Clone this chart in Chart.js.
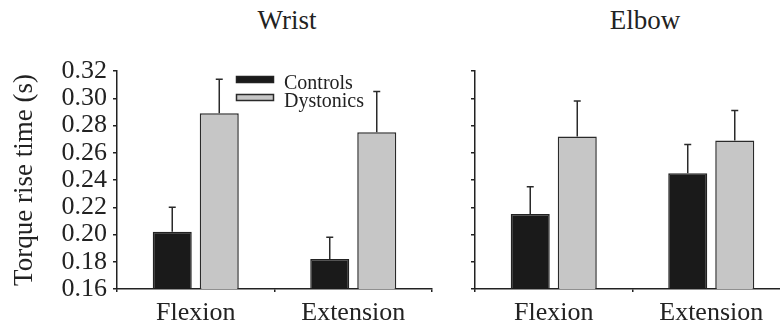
<!DOCTYPE html>
<html>
<head>
<meta charset="utf-8">
<script src="https://cdn.jsdelivr.net/npm/chart.js@4"></script>
<style>
html,body{margin:0;padding:0;background:#fff;overflow:hidden;width:780px;height:330px;}
#wrap{position:relative;width:780px;height:330px;overflow:hidden;}
canvas{position:absolute;top:0;}
.ttl{position:absolute;width:200px;text-align:center;font-family:"Liberation Serif","DejaVu Serif",serif;font-size:27px;line-height:27px;color:#222;top:7px;}
</style>
</head>
<body>
<div id="wrap">
<div class="ttl" id="t1" style="left:187px">Wrist</div>
<div class="ttl" id="t2" style="left:545px">Elbow</div>
<canvas id="c1" width="440" height="330" style="left:0"></canvas>
<canvas id="c2" width="360" height="330" style="left:440px"></canvas>
</div>
<script>
const categories = ["Flexion", "Extension"];
const seriesLabels = ["Controls", "Dystonics"];
const wristControls = [0.202, 0.182];
const wristControlsErr = [0.018, 0.016];
const wristDystonics = [0.289, 0.275];
const wristDystonicsErr = [0.025, 0.030];
const elbowControls = [0.215, 0.245];
const elbowControlsErr = [0.020, 0.021];
const elbowDystonics = [0.272, 0.269];
const elbowDystonicsErr = [0.026, 0.022];
const yTicks = [0.16, 0.18, 0.20, 0.22, 0.24, 0.26, 0.28, 0.30, 0.32];
const yTitle = "Torque rise time (s)";

const FONT = '"Liberation Serif", "DejaVu Serif", serif';
const INK = '#222';
Chart.defaults.font.family = FONT;
Chart.defaults.color = INK;

const errorBars = {
  id: 'errorBars',
  afterDatasetsDraw(chart) {
    const ctx = chart.ctx, ys = chart.scales.y;
    ctx.save();
    ctx.strokeStyle = '#2a2a2a';
    ctx.lineWidth = 1.5;
    chart.data.datasets.forEach((ds, i) => {
      const meta = chart.getDatasetMeta(i);
      meta.data.forEach((bar, j) => {
        const top = ys.getPixelForValue(ds.data[j] + ds.errors[j]);
        ctx.beginPath();
        ctx.moveTo(bar.x, bar.y);
        ctx.lineTo(bar.x, top);
        ctx.moveTo(bar.x - 3.5, top);
        ctx.lineTo(bar.x + 3.5, top);
        ctx.stroke();
      });
    });
    ctx.restore();
  }
};

const customLegend = {
  id: 'customLegend',
  afterDraw(chart, args, opts) {
    if (!opts.show) return;
    const ctx = chart.ctx;
    ctx.save();
    const rows = [{box: 76.5, base: 88.5}, {box: 94.5, base: 106.5}];
    chart.data.datasets.forEach((ds, i) => {
      ctx.fillStyle = ds.backgroundColor;
      ctx.strokeStyle = ds.borderColor;
      ctx.lineWidth = 1.5;
      ctx.fillRect(236.5, rows[i].box, 37, 6);
      ctx.strokeRect(236.5, rows[i].box, 37, 6);
      ctx.fillStyle = INK;
      ctx.font = '20px ' + FONT;
      ctx.textBaseline = 'alphabetic';
      ctx.textAlign = 'left';
      ctx.fillText(ds.label, 284, rows[i].base);
    });
    ctx.restore();
  }
};

function makeChart(id, ctrl, ctrlErr, dyst, dystErr, showLabels, axisWidth, padRight) {
  return new Chart(document.getElementById(id), {
    type: 'bar',
    data: {
      labels: categories,
      datasets: [
        {label: seriesLabels[0], data: ctrl, errors: ctrlErr, backgroundColor: '#1a1a1a', borderColor: '#222', borderWidth: 1.5},
        {label: seriesLabels[1], data: dyst, errors: dystErr, backgroundColor: '#c6c6c6', borderColor: '#2a2a2a', borderWidth: 1.5}
      ]
    },
    options: {
      responsive: false,
      animation: false,
      categoryPercentage: 0.597,
      barPercentage: 0.83,
      layout: {padding: {top: 71, left: 0, right: padRight, bottom: 0}},
      plugins: {
        legend: {display: false},
        tooltip: {enabled: false},
        customLegend: {show: showLabels}
      },
      scales: {
        x: {
          offset: true,
          grid: {display: true, drawOnChartArea: false, drawTicks: true, tickLength: 3, color: INK, lineWidth: 1.5},
          border: {display: true, color: INK, width: 1.5},
          ticks: {font: {size: 26}, color: INK, padding: 6, maxRotation: 0, autoSkip: false},
          afterFit: s => { s.height = 41; }
        },
        y: {
          min: 0.16, max: 0.32,
          afterBuildTicks: s => { s.ticks = yTicks.map(v => ({value: v})); },
          grid: {display: true, drawOnChartArea: false, drawTicks: true, tickLength: 4, color: INK, lineWidth: 1.5},
          border: {display: true, color: INK, width: 1.5},
          ticks: {display: showLabels, autoSkip: false, font: {size: 26}, color: INK, padding: 6, callback: v => Number(v).toFixed(2)},
          title: {display: showLabels, text: yTitle, font: {size: 27}, color: INK, padding: {top: 9, bottom: 0}},
          afterFit: s => { s.width = axisWidth; }
        }
      }
    },
    plugins: [errorBars, customLegend]
  });
}

makeChart('c1', wristControls, wristControlsErr, wristDystonics, wristDystonicsErr, true, 117, 8);
makeChart('c2', elbowControls, elbowControlsErr, elbowDystonics, elbowDystonicsErr, false, 35, 10);
</script>
</body>
</html>
